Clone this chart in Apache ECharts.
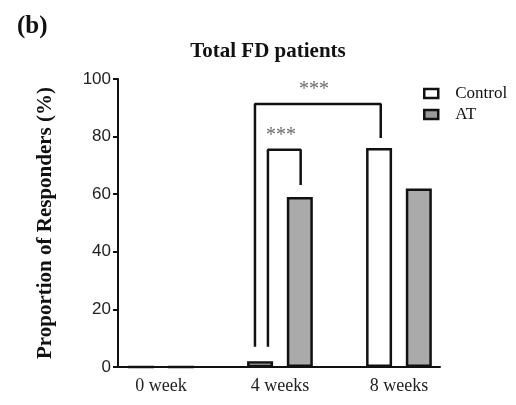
<!DOCTYPE html>
<html>
<head>
<meta charset="utf-8">
<script src="https://cdn.jsdelivr.net/npm/echarts@6/dist/echarts.min.js"></script>
<style>
html,body{margin:0;padding:0;background:#fff;}
#c{width:516px;height:405px;}
</style>
</head>
<body>
<div id="c"></div>
<script>
// ---- data ----
var categories = ['0 week', '4 weeks', '8 weeks'];
var controlValues = [0, 2, 76];
var atValues = [0, 59, 62];
var yTicks = [0, 20, 40, 60, 80, 100];
// significance brackets: [x, y] points in data space (x = category index)
var bracketOuter = [[0.79, 7], [0.79, 91.3], [1.847, 91.3], [1.847, 79.5]];
var bracketInner = [[0.899, 7], [0.899, 75.4], [1.174, 75.4], [1.174, 63.2]];
var starLabels = ['***', '***'];
var starPoints = [[1.286, 96.3], [1.008, 80.3]];

// ---- layout ----
var barOffset = 0.167;
function toPoints(vals, off) {
  return vals.map(function (v, i) { return [i + off, v]; });
}

var chart = echarts.init(document.getElementById('c'));
var serif = 'Liberation Serif';
var option = {
  backgroundColor: '#fff',
  animation: false,
  title: [
    { text: '(b)', left: 12, top: 9, textStyle: { fontFamily: serif, fontWeight: 'bold', fontSize: 25, color: '#111' } },
    { text: 'Total FD patients', left: 263, top: 36, textAlign: 'center', textStyle: { fontFamily: serif, fontWeight: 'bold', fontSize: 21, color: '#111' } }
  ],
  legend: {
    orient: 'vertical', left: 423, top: 85, padding: 0,
    itemWidth: 14, itemHeight: 9, itemGap: 4,
    textStyle: { fontFamily: serif, fontSize: 17, color: '#111', lineHeight: 17, padding: [0, 0, 0, 12] },
    data: [
      { name: 'Control', icon: 'rect', itemStyle: { color: '#fff', borderColor: '#111', borderWidth: 2.5 } },
      { name: 'AT', icon: 'rect', itemStyle: { color: '#999', borderColor: '#111', borderWidth: 2.5 } }
    ]
  },
  grid: { left: 118, right: 76, top: 79, bottom: 38, containLabel: false },
  xAxis: {
    type: 'value', min: -0.361, max: 2.345,
    splitLine: { show: false },
    axisLine: { show: true, onZero: false, lineStyle: { color: '#111', width: 2 } },
    axisTick: { show: false },
    axisLabel: {
      customValues: [0, 1, 2],
      formatter: function (v) { return categories[Math.round(v)]; },
      fontFamily: serif, fontSize: 18, color: '#222', margin: 10
    }
  },
  yAxis: {
    type: 'value', min: 0, max: 100, interval: 20,
    name: 'Proportion of Responders (%)', nameLocation: 'middle', nameGap: 62, nameRotate: 90,
    nameTextStyle: { fontFamily: serif, fontWeight: 'bold', fontSize: 21, color: '#111' },
    splitLine: { show: false },
    axisLine: { show: true, onZero: false, lineStyle: { color: '#111', width: 2 } },
    axisTick: { show: true, length: 5, lineStyle: { color: '#111', width: 2 } },
    axisLabel: {
      fontFamily: 'Liberation Sans', fontSize: 17, color: '#222', margin: 7,
      formatter: function (v) { return yTicks.indexOf(v) >= 0 ? String(v) : ''; }
    }
  },
  series: [
    {
      name: 'Control', type: 'bar', barWidth: 26, barGap: '-100%',
      itemStyle: { color: '#fff', borderColor: '#111', borderWidth: 2.5 },
      data: toPoints(controlValues, -barOffset)
    },
    {
      name: 'AT', type: 'bar', barWidth: 26, barGap: '-100%',
      itemStyle: { color: '#aaa', borderColor: '#111', borderWidth: 2.5 },
      data: toPoints(atValues, barOffset)
    },
    {
      type: 'line', data: bracketOuter, symbol: 'none', silent: true,
      lineStyle: { color: '#111', width: 2.5 }
    },
    {
      type: 'line', data: bracketInner, symbol: 'none', silent: true,
      lineStyle: { color: '#111', width: 2.5 }
    },
    {
      type: 'scatter', symbolSize: 1, silent: true,
      itemStyle: { color: 'rgba(0,0,0,0)' },
      label: {
        show: true, position: 'inside',
        formatter: function (p) { return starLabels[p.dataIndex]; },
        fontFamily: serif, fontSize: 20, color: '#444'
      },
      data: starPoints
    }
  ]
};
chart.setOption(option);
</script>
</body>
</html>
